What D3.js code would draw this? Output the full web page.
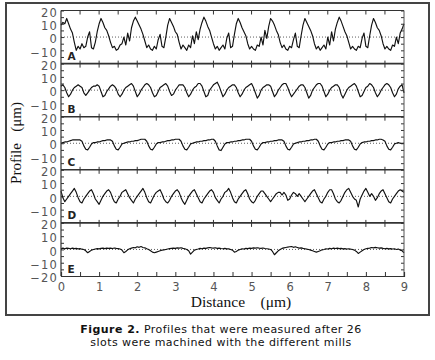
<!DOCTYPE html>
<html><head><meta charset="utf-8">
<script src="https://cdn.jsdelivr.net/npm/d3@7/dist/d3.min.js"></script>
<style>body{margin:0;background:#fff;} svg{display:block}</style>
</head><body>
<svg id="c" width="435" height="360"></svg>
<script>
// ---------- data ----------
const panels = ["A", "B", "C", "D", "E"];
const xTickValues = [0, 1, 2, 3, 4, 5, 6, 7, 8, 9];
const yTickLabels = [20, 10, 0, -10];
const sampleStep = 0.05; // µm between profile samples

const profileA = [9, 11, 10,
 14, 10, 6, 3, -4, -10, -7, -9, -5, -8, -7, 0, 4, -8, -9, -4, 4, 10,
 14, 11, 7, 5, 1, -4, -8, -7, -10, -9, -6, -5, 0, -6, 3, -3, 7, 12,
 15, 12, 9, 6, 2, -3, -8, -6, -9, -10, -7, -9, -2, 2, -7, -8, 0, 9,
 14, 11, 8, 4, 2, -4, -9, -6, -8, -10, -6, -8, 1, -5, 4, -2, 6, 11,
 15, 12, 8, 5, 0, -5, -9, -7, -10, -8, -6, -9, -1, 3, -8, -7, 2, 10,
 14, 11, 7, 4, 1, -5, -9, -7, -9, -10, -6, -7, 0, -6, 5, -1, 8,
 14, 12, 9, 5, 2, -4, -8, -6, -9, -10, -7, -8, -2, 3, -7, -8, 1, 9,
 14, 11, 8, 5, 1, -5, -9, -7, -10, -8, -6, -9, 0, -6, 4, -3, 6, 11,
 15, 12, 8, 4, 1, -4, -9, -7, -9, -10, -7, -8, -1, 3, -7, -8, 1, 9,
 14, 11, 7, 5, 1, -5, -9, -7, -9, -10, -6, -7, 0, -5, 3, 6, 10];

const profileB = [3,
 4, 2, -2, -5, -3, 0, 2, 3, 4,
 3, 2, -2, -4, -2, 0, 2, 3, 3,
 4, 3, -1, -5, -4, -1, 1, 3, 4,
 3, 1, -3, -5, -3, 0, 2, 3, 4,
 5, 3, -1, -5, -3, 0, 2, 4, 5,
 4, 2, -2, -5, -4, -1, 2, 3, 4,
 5, 3, -1, -4, -3, 0, 2, 4, 4,
 4, 2, -2, -5, -3, 0, 2, 3, 5,
 5, 3, -1, -5, -4, 0, 2, 4, 5,
 6, 3, -1, -5, -3, 0, 2, 3, 4,
 4, 2, -2, -5, -3, 0, 2, 3, 4,
 5, 2, -2, -6, -4, 0, 2, 3, 4,
 4, 3, -1, -5, -3, 0, 2, 4, 5,
 5, 2, -2, -5, -3, -1, 1, 3, 4,
 4, 2, -2, -6, -4, 0, 2, 4, 5,
 5, 3, -1, -5, -3, 0, 2, 3, 4,
 4, 2, -3, -6, -3, 0, 2, 3, 4,
 5, 3, -1, -5, -4, -1, 2, 3, 5,
 4, 2, -2, -5, -3, 0, 2, 4, 5,
 4, 2, -2, -5, -3, 1, 3, 4, -2];

const profileC = [0, 0.5, 1, 1, 1.5, 2, 2.5, 2.5, 2.5, 2.5,
 2.5, 1.5, -2, -4.5, -5, -3, -0.5, 0.5, 0.5, 1, 1, 1.5, 2, 2, 2.5, 2.5,
 2.5, 1.5, -2, -4.5, -5, -3, -0.5, 0, 0.5, 1, 1, 1.5, 1.5, 2, 2, 2.5, 3, 3,
 3, 1.5, -2, -4.5, -5, -3, -0.5, 0.5, 0.5, 1, 1, 1.5, 2, 2, 2.5, 2.5, 3, 3,
 3, 1.5, -2, -4.5, -5, -3, -0.5, 0, 0.5, 1, 1, 1.5, 1.5, 2, 2, 2.5, 2.5, 3,
 3, 1.5, -2, -5, -5.5, -3, -0.5, 0.5, 0.5, 1, 1, 1.5, 1.5, 2, 2, 2.5, 2.5, 3, 3,
 3, 1.5, -2, -4.5, -5, -3, -0.5, 0.5, 0.5, 1, 1, 1.5, 1.5, 2, 2, 2.5, 2.5,
 2.5, 1.5, -2, -4.5, -5, -3, -0.5, 0, 0.5, 1, 1, 1.5, 1.5, 2, 2, 2.5, 2.5, 3,
 3, 1.5, -2, -4.5, -5, -3, -0.5, 0.5, 0.5, 1, 1, 1.5, 1.5, 2, 2, 2.5, 2.5,
 2.5, 1.5, -2, -4.5, -5, -3, -0.5, 0.5, 1, 1, 1.5, 1.5, 2, 2, 2.5, 2.5, 3, 3,
 2.5, 1.5, -2, -4.5, -5, -3, -0.5, 0, 0.5, 0, 0, 0];

const profileD = [4, -1, -4, -2, 0, 2, 4,
 6, 3, -1, -4, -5, -2, 0, 2, 4,
 5, 2, -2, -4, -6, -3, 0, 2, 4,
 5, 3, -1, -4, -5, -2, 0, 3, 4,
 5, 2, -1, -3, -5, -2, 0, 2, 4,
 6, 3, -1, -4, -5, -2, 1, 3, 4,
 5, 2, -2, -4, -5, -3, 0, 2, 4,
 5, 3, -1, -4, -6, -3, 0, 2, 4,
 5, 2, -1, -4, -5, -2, 0, 2, 4,
 5, 3, -1, -3, -5, -2, 0, 3, 4,
 6, 3, -1, -4, -5, -2, 0, 2, 4,
 5, 2, -2, -4, -5, -3, 0, 2, 4,
 4, 2, 0, -2, -4, -2, 0, 2, 3,
 3, 1, 3, 1, -3, -2, 1, 3, 2,
 0, 2, 0, -2, -4, -2, 0, 2, 4,
 5, 2, -1, -4, -5, -2, 0, 3, 5,
 5, 2, -2, -4, -5, -3, 0, 3, 5,
 6, 3, 0, -2, -3, -8, -2, 1, 4,
 6, 3, 0, 2, 0, -3, -1, 2, 4,
 5, 2, -1, -4, -5, -2, 0, 2, 4,
 5, 4, 3];

const profileE = [0.5, 1, 0.5, 1, 0.8, 0.5, 1, 0.6, 0.8, 0.4,
 0.6, 0.2, 0, -1, -2.5, -1.5, -0.5, 0, 0.3, 0.6,
 0.4, 0.8, 1, 0.6, 1, 0.8, 1, 0.7, 1.1, 0.8,
 0.6, 0.3, -0.5, -2.5, -1.5, -0.3, 0.5, 1, 1.5, 1.2,
 2, 1.6, 2.2, 1.5, 1.2, 0.5, 0, -1, -2, -2.5,
 -2, -1.5, -1, -0.5, -0.3, 0, 0.3, 0.6, 0.8, 1,
 0.8, 1.2, 1, 1.3, 0.8, 0.5, 0, -1, -3.5, -2,
 -0.5, 0, 0.3, 0.8, 0.5, 1, 0.8, 1.2, 1.5, 1.2,
 1, 1.3, 0.8, 1, 0.7, 0.5, 0.8, 0.4, 0.5, 0,
 -0.5, -2, -1.5, -0.5, 0, 0.5, 0.3, 0.8, 0.6, 1,
 0.8, 1.2, 1, 1.3, 1, 0.8, 1.1, 0.7, 0.5, 0.3,
 0, -1.5, -4, -2.5, -1, 0, 0.8, 1.2, 1.5, 1.8,
 2, 2.2, 1.6, 2, 1.5, 1, 1.2, 0.8, 0.5, 0.2,
 0, -0.5, -1, -1.5, -2, -1.5, -1, -0.3, 0, 0.5,
 0.3, 0.8, 0.5, 1, 0.7, 1, 0.6, 0.8, 0.4, 0.6,
 0.3, 0.5, 0.2, 0, -0.5, -1.5, -3, -2, -1, 0,
 0.5, 0.8, 1, 1.5, 1.2, 1.6, 1.3, 1, 1.2, 0.8,
 0.5, 0.8, 0.4, 0.6, 0.3, 0.5, 0, 0.3, -0.5, -1,
 -2.5];

const profiles = [profileA, profileB, profileC, profileD, profileE];

// ---------- drawing ----------
(function () {
const svg = d3.select("#c");
const pLeft = 61, pRight = 404, pTop0 = 10.5, panelH = 53.1;
const pBottom = pTop0 + panelH * panels.length;

const x = d3.scaleLinear().domain([0, 9]).range([pLeft, pRight]);
const halfTicks = d3.range(0, 9.001, 0.5);

svg.append("rect").attr("x", 6).attr("y", 3).attr("width", 423).attr("height", 312)
  .attr("fill", "none").attr("stroke", "#444").attr("stroke-width", 2);

const tickFont = "'DejaVu Sans', sans-serif";

panels.forEach((name, i) => {
  const pTop = pTop0 + panelH * i;
  const y = d3.scaleLinear().domain([-20, 20]).range([pTop + panelH, pTop]);
  const g = svg.append("g");

  g.append("line").attr("x1", x(0)).attr("x2", x(9)).attr("y1", y(0)).attr("y2", y(0))
    .attr("stroke", "#333").attr("stroke-width", 0.8).attr("stroke-dasharray", "1,2");

  const lblVals = i === panels.length - 1 ? yTickLabels.concat([-20]) : yTickLabels;
  const leftAxis = d3.axisLeft(y).tickValues([-15, -10, -5, 0, 5, 10, 15, 20])
    .tickSize(-3).tickFormat(() => "");
  g.append("g").attr("transform", `translate(${pLeft},0)`).call(leftAxis)
    .call(s => s.select(".domain").remove())
    .call(s => s.selectAll("line").attr("stroke", "#333"));
  const labAxis = d3.axisLeft(y).tickValues(lblVals).tickSize(0).tickPadding(3)
    .tickFormat(d => d < 0 ? "\u2212" + Math.abs(d) : d);
  g.append("g").attr("transform", `translate(${pLeft},2)`).call(labAxis)
    .call(s => s.select(".domain").remove())
    .call(s => s.selectAll("text").attr("font-family", tickFont).attr("font-size", 11.5)
      .attr("letter-spacing", 1.2).attr("fill", "#555"));

  const rightAxis = d3.axisRight(y).tickValues([-15, -10, -5, 0, 5, 10, 15, 20])
    .tickSize(-3).tickFormat(() => "");
  g.append("g").attr("transform", `translate(${pRight},0)`).call(rightAxis)
    .call(s => s.select(".domain").remove())
    .call(s => s.selectAll("line").attr("stroke", "#333"));

  g.append("line").attr("x1", pLeft).attr("x2", pRight).attr("y1", pTop).attr("y2", pTop)
    .attr("stroke", "#333").attr("stroke-width", i === 0 ? 1.2 : 1.6);
  g.selectAll(".ht").data(halfTicks.filter(d => d > 0 && d < 9)).enter().append("line")
    .attr("x1", d => x(d)).attr("x2", d => x(d))
    .attr("y1", i === 0 ? pTop : pTop - 3).attr("y2", pTop + 4)
    .attr("stroke", "#333").attr("stroke-width", 1);

  const line = d3.line().x((d, k) => x(k * sampleStep)).y(d => y(d));
  g.append("path").datum(profiles[i]).attr("d", line)
    .attr("fill", "none").attr("stroke", "#111").attr("stroke-width", 1.15)
    .attr("stroke-linejoin", "round");

  g.append("text").attr("x", x(0.17)).attr("y", pTop + panelH - 3.5)
    .attr("font-family", tickFont).attr("font-size", 10.5).attr("font-weight", "bold")
    .attr("fill", "#222").text(name);
});

svg.append("line").attr("x1", pLeft).attr("x2", pLeft).attr("y1", pTop0).attr("y2", pBottom)
  .attr("stroke", "#333").attr("stroke-width", 1.2);
svg.append("line").attr("x1", pRight).attr("x2", pRight).attr("y1", pTop0).attr("y2", pBottom)
  .attr("stroke", "#555").attr("stroke-width", 1);

const xAxis = d3.axisBottom(x).tickValues(halfTicks).tickSize(-4).tickPadding(7)
  .tickFormat(d => Number.isInteger(d) && xTickValues.includes(d) ? d : "");
svg.append("g").attr("transform", `translate(0,${pBottom})`).call(xAxis)
  .call(s => s.select(".domain").attr("stroke", "#333").attr("stroke-width", 1.2))
  .call(s => s.selectAll("line").attr("stroke", "#333"))
  .call(s => s.selectAll("text").attr("font-family", tickFont).attr("font-size", 11.5)
    .attr("fill", "#555"));

svg.append("text").attr("x", 241).attr("y", 307).attr("text-anchor", "middle")
  .attr("font-family", "'Liberation Serif', serif").attr("font-size", 15.5).attr("fill", "#111")
  .attr("xml:space", "preserve").text("Distance    (\u03bcm)");
svg.append("text").attr("transform", "translate(21,143) rotate(-90)").attr("text-anchor", "middle")
  .attr("font-family", "'Liberation Serif', serif").attr("font-size", 15).attr("fill", "#111")
  .attr("xml:space", "preserve").text("Profile   (\u03bcm)");

// caption: bold lead + regular text, measured and centred as one line
const capFont = "'DejaVu Sans', sans-serif", capSize = 11, capLS = 0.45, capCx = 221;
const bold = svg.append("text").attr("y", 332.5).attr("font-family", capFont)
  .attr("font-size", capSize).attr("font-weight", "bold").attr("letter-spacing", capLS)
  .attr("fill", "#111").text("Figure 2.");
const rest = svg.append("text").attr("y", 332.5).attr("font-family", capFont)
  .attr("font-size", capSize).attr("letter-spacing", capLS).attr("fill", "#111")
  .text("Profiles that were measured after 26");
const gap = 4;
const wb = bold.node().getComputedTextLength();
const wr = rest.node().getComputedTextLength();
const startX = capCx - (wb + gap + wr) / 2;
bold.attr("x", startX);
rest.attr("x", startX + wb + gap);
svg.append("text").attr("x", capCx).attr("y", 345.5).attr("text-anchor", "middle")
  .attr("font-family", capFont).attr("font-size", capSize).attr("letter-spacing", capLS)
  .attr("fill", "#111").text("slots were machined with the different mills");
})();
</script>
</body></html>
